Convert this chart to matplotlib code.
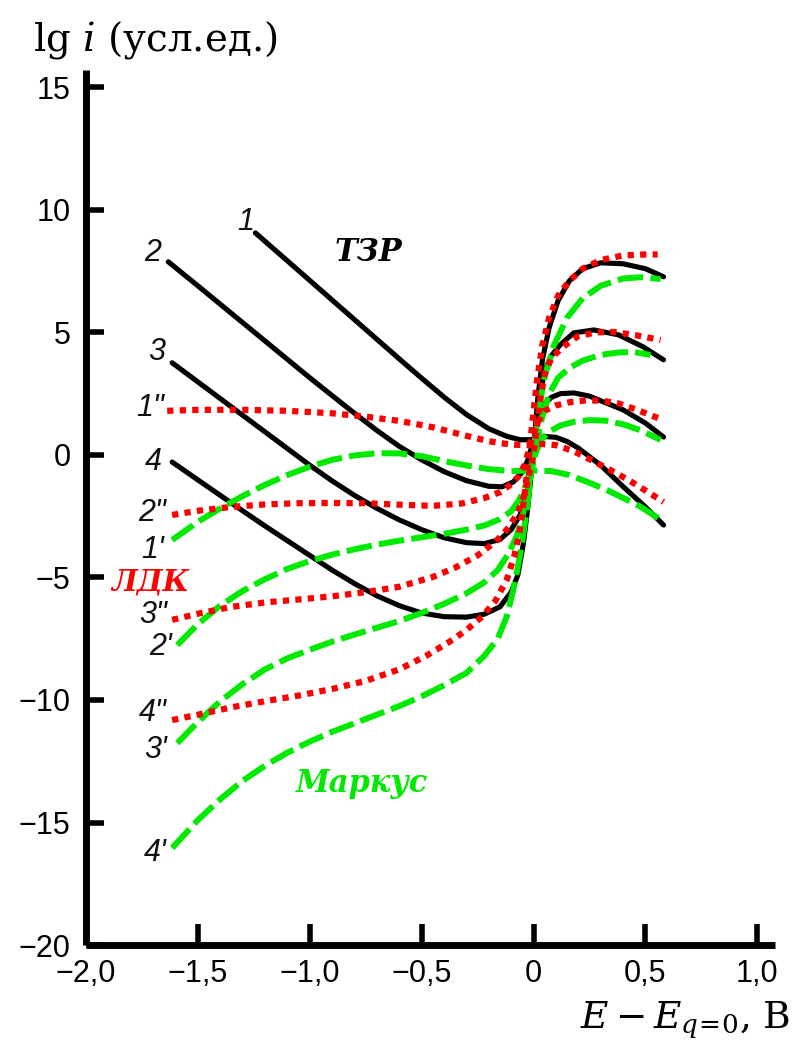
import matplotlib
matplotlib.use("Agg")
import matplotlib.pyplot as plt

plt.rcParams['mathtext.fontset'] = 'dejavuserif'

# ---------------- data ----------------
x_ticks = [-2.0, -1.5, -1.0, -0.5, 0.0, 0.5, 1.0]
x_tick_labels = ["−2,0", "−1,5", "−1,0", "−0,5", "0", "0,5", "1,0"]
y_ticks = [15, 10, 5, 0, -5, -10, -15, -20]
y_tick_labels = ["15", "10", "5", "0", "−5", "−10", "−15", "−20"]

# ТЗР (black solid)
tzr1_x = [-1.243, -1.1, -1.0, -0.9, -0.8, -0.7, -0.6, -0.5, -0.4, -0.3, -0.2, -0.12, -0.06, 0.0, 0.05, 0.1, 0.15, 0.2, 0.3, 0.4, 0.5, 0.581]
tzr1_y = [9.06, 7.92, 7.12, 6.32, 5.52, 4.72, 3.92, 3.13, 2.36, 1.65, 1.07, 0.76, 0.62, 0.62, 0.75, 0.72, 0.55, 0.28, -0.42, -1.29, -2.12, -2.86]
tzr2_x = [-1.632, -1.5, -1.4, -1.3, -1.2, -1.1, -1.0, -0.9, -0.8, -0.7, -0.6, -0.5, -0.4, -0.3, -0.2, -0.14, -0.09, -0.05, -0.025, 0.0, 0.02, 0.045, 0.08, 0.12, 0.18, 0.25, 0.33, 0.4, 0.5, 0.581]
tzr2_y = [7.88, 6.9, 6.15, 5.4, 4.65, 3.9, 3.15, 2.42, 1.7, 1.0, 0.35, -0.2, -0.68, -1.05, -1.28, -1.3, -1.1, -0.7, -0.2, 0.6, 1.4, 2.05, 2.35, 2.5, 2.53, 2.4, 2.1, 1.84, 1.3, 0.73]
tzr3_x = [-1.615, -1.5, -1.4, -1.3, -1.2, -1.1, -1.0, -0.9, -0.8, -0.7, -0.6, -0.5, -0.4, -0.3, -0.22, -0.15, -0.1, -0.06, -0.035, -0.015, 0.0, 0.015, 0.03, 0.05, 0.08, 0.12, 0.18, 0.27, 0.38, 0.49, 0.581]
tzr3_y = [3.76, 2.98, 2.3, 1.62, 0.94, 0.26, -0.42, -1.06, -1.65, -2.18, -2.65, -3.05, -3.38, -3.58, -3.62, -3.45, -3.05, -2.45, -1.75, -0.8, 0.2, 1.4, 2.5, 3.45, 4.05, 4.5, 4.98, 5.1, 4.9, 4.41, 3.88]
tzr4_x = [-1.615, -1.5, -1.4, -1.3, -1.2, -1.1, -1.0, -0.9, -0.8, -0.7, -0.6, -0.5, -0.4, -0.3, -0.22, -0.15, -0.1, -0.07, -0.045, -0.025, -0.01, 0.005, 0.02, 0.04, 0.07, 0.11, 0.16, 0.22, 0.3, 0.4, 0.5, 0.581]
tzr4_y = [-0.29, -1.02, -1.65, -2.28, -2.9, -3.5, -4.1, -4.7, -5.25, -5.75, -6.15, -6.45, -6.6, -6.62, -6.5, -6.2, -5.6, -4.9, -3.6, -2.1, -0.7, 0.8, 2.4, 3.9, 5.2, 6.3, 7.1, 7.6, 7.84, 7.8, 7.6, 7.27]

# ЛДК (red dotted)
ldk1_x = [-1.637, -1.5, -1.3, -1.1, -0.9, -0.75, -0.6, -0.45, -0.3, -0.2, -0.1, -0.03, 0.03, 0.1, 0.18, 0.26, 0.34, 0.42, 0.5, 0.581]
ldk1_y = [1.80, 1.84, 1.84, 1.8, 1.7, 1.56, 1.39, 1.13, 0.78, 0.56, 0.42, 0.4, 0.45, 0.4, 0.15, -0.22, -0.6, -1.0, -1.45, -1.92]
ldk2_x = [-1.615, -1.5, -1.35, -1.2, -1.05, -0.9, -0.75, -0.6, -0.45, -0.32, -0.22, -0.15, -0.1, -0.065, -0.04, -0.02, 0.0, 0.02, 0.05, 0.1, 0.16, 0.23, 0.3, 0.38, 0.46, 0.577]
ldk2_y = [-2.45, -2.28, -2.12, -2.02, -1.97, -1.96, -1.97, -2.03, -2.08, -1.98, -1.76, -1.52, -1.2, -0.85, -0.4, 0.2, 0.85, 1.35, 1.8, 2.02, 2.15, 2.22, 2.22, 2.1, 1.85, 1.43]
ldk3_x = [-1.615, -1.5, -1.35, -1.2, -1.05, -0.9, -0.75, -0.6, -0.45, -0.35, -0.25, -0.17, -0.11, -0.07, -0.04, -0.02, 0.0, 0.015, 0.03, 0.05, 0.08, 0.13, 0.2, 0.28, 0.36, 0.46, 0.568]
ldk3_y = [-6.73, -6.48, -6.2, -6.02, -5.9, -5.77, -5.6, -5.38, -4.98, -4.6, -4.1, -3.55, -2.95, -2.35, -1.6, -0.8, 0.0, 1.1, 2.3, 3.3, 3.95, 4.4, 4.85, 5.0, 5.02, 4.88, 4.69]
ldk4_x = [-1.615, -1.5, -1.35, -1.2, -1.05, -0.9, -0.75, -0.6, -0.48, -0.38, -0.3, -0.23, -0.17, -0.12, -0.085, -0.06, -0.04, -0.022, -0.005, 0.015, 0.04, 0.07, 0.11, 0.16, 0.22, 0.3, 0.4, 0.5, 0.555]
ldk4_y = [-10.82, -10.6, -10.3, -10.05, -9.82, -9.55, -9.22, -8.75, -8.2, -7.65, -7.15, -6.6, -5.95, -5.1, -4.1, -3.0, -1.63, -0.2, 1.35, 3.0, 4.5, 5.6, 6.5, 7.1, 7.6, 7.95, 8.14, 8.18, 8.18]

# Маркус (green dashed)
mk1_x = [-1.615, -1.5, -1.4, -1.3, -1.2, -1.1, -1.0, -0.9, -0.8, -0.7, -0.6, -0.5, -0.4, -0.3, -0.2, -0.1, 0.0, 0.08, 0.16, 0.24, 0.32, 0.4, 0.48, 0.568]
mk1_y = [-3.47, -2.73, -2.18, -1.68, -1.22, -0.82, -0.48, -0.2, -0.02, 0.07, 0.06, -0.05, -0.25, -0.43, -0.58, -0.66, -0.64, -0.66, -0.82, -1.1, -1.4, -1.75, -2.12, -2.65]
mk2_x = [-1.592, -1.5, -1.4, -1.3, -1.2, -1.1, -1.0, -0.9, -0.8, -0.7, -0.6, -0.5, -0.4, -0.3, -0.22, -0.15, -0.1, -0.065, -0.035, -0.012, 0.01, 0.035, 0.07, 0.12, 0.18, 0.25, 0.32, 0.4, 0.48, 0.568]
mk2_y = [-7.76, -6.9, -6.15, -5.55, -5.07, -4.65, -4.33, -4.07, -3.85, -3.66, -3.5, -3.36, -3.22, -3.05, -2.88, -2.62, -2.3, -1.85, -1.25, -0.55, 0.1, 0.62, 0.95, 1.2, 1.35, 1.42, 1.4, 1.25, 1.0, 0.61]
mk3_x = [-1.592, -1.5, -1.4, -1.3, -1.2, -1.1, -1.0, -0.9, -0.8, -0.7, -0.6, -0.5, -0.4, -0.3, -0.22, -0.16, -0.11, -0.075, -0.05, -0.027, -0.005, 0.015, 0.04, 0.07, 0.11, 0.16, 0.22, 0.3, 0.38, 0.45, 0.523]
mk3_y = [-11.76, -10.9, -10.05, -9.35, -8.75, -8.3, -7.95, -7.62, -7.33, -7.05, -6.78, -6.45, -6.08, -5.65, -5.2, -4.7, -4.0, -3.3, -2.55, -1.5, -0.5, 0.5, 1.6, 2.5, 3.15, 3.55, 3.85, 4.08, 4.18, 4.2, 4.08]
mk4_x = [-1.615, -1.5, -1.4, -1.3, -1.2, -1.1, -1.0, -0.9, -0.8, -0.7, -0.6, -0.5, -0.4, -0.3, -0.22, -0.16, -0.12, -0.09, -0.065, -0.045, -0.028, -0.012, 0.004, 0.025, 0.05, 0.09, 0.15, 0.22, 0.3, 0.4, 0.48, 0.568]
mk4_y = [-16.04, -14.9, -14.05, -13.3, -12.68, -12.15, -11.7, -11.3, -10.95, -10.6, -10.25, -9.85, -9.4, -8.9, -8.2, -7.5, -6.6, -5.5, -4.35, -3.2, -2.1, -0.9, 0.5, 1.9, 3.2, 4.45, 5.6, 6.4, 6.9, 7.2, 7.25, 7.18]

curve_labels = ["1", "2", "3", "4", '1"', '2"', '3"', '4"', "1'", "2'", "3'", "4'"]

# ---------------- figure ----------------
fig = plt.figure(figsize=(7.94, 10.49), dpi=100)
ax = fig.add_axes([0.1083, 0.0991, 0.868, 0.834])
ax.set_xlim(-2.0, 1.08)
ax.set_ylim(-20, 15.7)

BLACK = "#000000"
RED = "#ff0000"
GREEN = "#00ea00"

for xs, ys in [(tzr1_x, tzr1_y), (tzr2_x, tzr2_y), (tzr3_x, tzr3_y), (tzr4_x, tzr4_y)]:
    ax.plot(xs, ys, color=BLACK, lw=3.7, solid_capstyle='round', solid_joinstyle='round', zorder=2)
for xs, ys in [(mk1_x, mk1_y), (mk2_x, mk2_y), (mk3_x, mk3_y), (mk4_x, mk4_y)]:
    ax.plot(xs, ys, color=GREEN, lw=4.3, ls=(0, (4.3, 1.2)), dash_capstyle='butt', dash_joinstyle='round', zorder=3)
for xs, ys in [(ldk1_x, ldk1_y), (ldk2_x, ldk2_y), (ldk3_x, ldk3_y), (ldk4_x, ldk4_y)]:
    ax.plot(xs, ys, color=RED, lw=4.5, ls=(0, (1, 1)), dash_capstyle='butt', dash_joinstyle='round', zorder=4)

# spines / ticks
for s in ['top', 'right']:
    ax.spines[s].set_visible(False)
for s in ['left', 'bottom']:
    ax.spines[s].set_linewidth(5)
    ax.spines[s].set_capstyle('butt')
ax.set_xticks(x_ticks)
ax.set_xticklabels(x_tick_labels)
ax.set_yticks(y_ticks)
ax.set_yticklabels(y_tick_labels)
ax.tick_params(axis='both', direction='in', length=15, width=4, labelsize=22)
ax.tick_params(axis='x', pad=10)
ax.tick_params(axis='y', pad=11, length=13)
for lab in ax.get_xticklabels() + ax.get_yticklabels():
    lab.set_fontfamily(['Liberation Sans', 'DejaVu Sans'])

# curve labels
lab_pos = [(-1.288, 9.51), (-1.70, 8.24), (-1.682, 4.20), (-1.70, -0.29),
           (-1.713, 1.92), (-1.704, -2.37), (-1.70, -6.53), (-1.70, -10.53),
           (-1.70, -3.88), (-1.668, -7.84), (-1.69, -12.04), (-1.69, -16.24)]
for t, (x, y) in zip(curve_labels, lab_pos):
    ax.text(x, y, t, fontsize=22, style='italic', family=['Liberation Sans', 'DejaVu Sans'],
            ha='center', va='center', color='#111111', zorder=5)

ax.text(-0.738, 8.24, "ТЗР", fontsize=22, family='DejaVu Serif', style='italic',
        weight='bold', color=BLACK, ha='center', va='center')
ax.text(-1.713, -5.18, "ЛДК", fontsize=21, family='DejaVu Serif', style='italic',
        weight='bold', color=RED, ha='center', va='center')
ax.text(-0.765, -13.39, "Маркус", fontsize=22, family='DejaVu Serif', style='italic',
        weight='bold', color=GREEN, ha='center', va='center')

# axis titles
fig.text(33 / 794, 1 - 40 / 1049, r"lg $i$ (усл.ед.)", fontsize=28, family='DejaVu Serif',
         ha='left', va='center')
fig.text(790 / 794, 1 - 1020 / 1049, r"$E - E_{q\!=\!0}$, В", fontsize=27, family='DejaVu Serif',
         ha='right', va='center')

fig.savefig("out.png", dpi=100)
